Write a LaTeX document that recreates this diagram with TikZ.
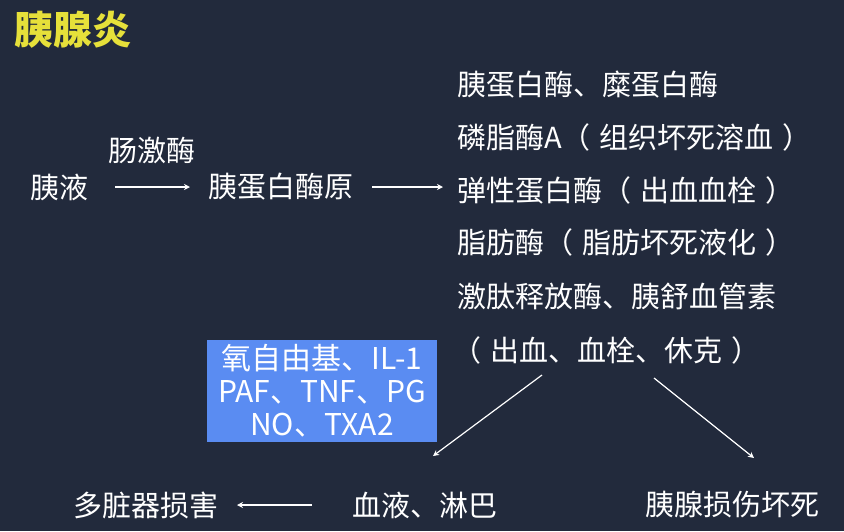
\documentclass[tikz,border=0pt]{standalone}
\usepackage{fontspec}
\setmainfont{Noto Sans CJK SC}
\usetikzlibrary{arrows.meta}
\definecolor{slidebg}{HTML}{222A3C}
\definecolor{titleyellow}{HTML}{E6E03A}
\definecolor{boxblue}{HTML}{5A8CF2}
\newcommand{\pgap}{\hspace{9pt}}

\begin{document}
\begin{tikzpicture}[x=1pt, y=-1pt,
  txt/.style={text=white, font=\fontsize{29}{34}\selectfont, inner sep=0pt, anchor=west},
  arr/.style={-{Stealth[length=6pt,width=6pt]}, white, line width=1.4pt}]
  \fill[slidebg] (0,0) rectangle (844,531);

  % title
  \node[text=titleyellow, font=\fontsize{39}{42}\selectfont\bfseries, inner sep=0pt, anchor=west] (title) at (14,30) {胰腺炎};

  % activation chain
  \node[txt] (juice) at (30,187) {胰液};
  \node[txt] (kinase) at (108,150) {肠激酶};
  \node[txt] (pro) at (208,187) {胰蛋白酶原};
  \coordinate (a1) at (115,187);
  \coordinate (a2) at (190,187);
  \draw[arr] (a1) -- (a2);

  % enzymes
  \node[txt] (e1) at (457,85) {胰蛋白酶、糜蛋白酶};
  \node[txt] (e2) at (457,137) {磷脂酶A（\pgap 组织坏死溶血\pgap ）};
  \node[txt] (e3) at (457,190) {弹性蛋白酶（\pgap 出血血栓\pgap ）};
  \node[txt] (e4) at (457,242) {脂肪酶（\pgap 脂肪坏死液化\pgap ）};
  \node[txt] (e5) at (457,296) {激肽释放酶、胰舒血管素};
  \node[txt] (e6) at (452,350) {（\pgap 出血、血栓、休克\pgap ）};
  \coordinate (b1) at (372,187);
  \coordinate (b2) at (443,187);
  \draw[arr] (b1) -- (b2);

  % mediators
  \node[fill=boxblue, text=white, minimum width=230, minimum height=102, inner sep=0pt,
    align=center, font=\fontsize{30}{33}\selectfont] (med) at (322,391)
    {氧自由基、IL-1\\PAF、TNF、PG\\NO、TXA2};

  % outcomes
  \node[txt] (organ) at (73,505) {多脏器损害};
  \node[txt] (blood) at (352,505) {血液、淋巴};
  \node[txt] (necro) at (645,505) {胰腺损伤坏死};
  \coordinate (s1) at (542,375);
  \coordinate (s2) at (654,378);
  \draw[arr, line width=1.2pt] (s1) -- (433,456);
  \draw[arr, line width=1.2pt] (s2) -- (754,458);
  \draw[arr] (blood.west) ++(-40,0) -- ++(-75,0);
\end{tikzpicture}
\end{document}
